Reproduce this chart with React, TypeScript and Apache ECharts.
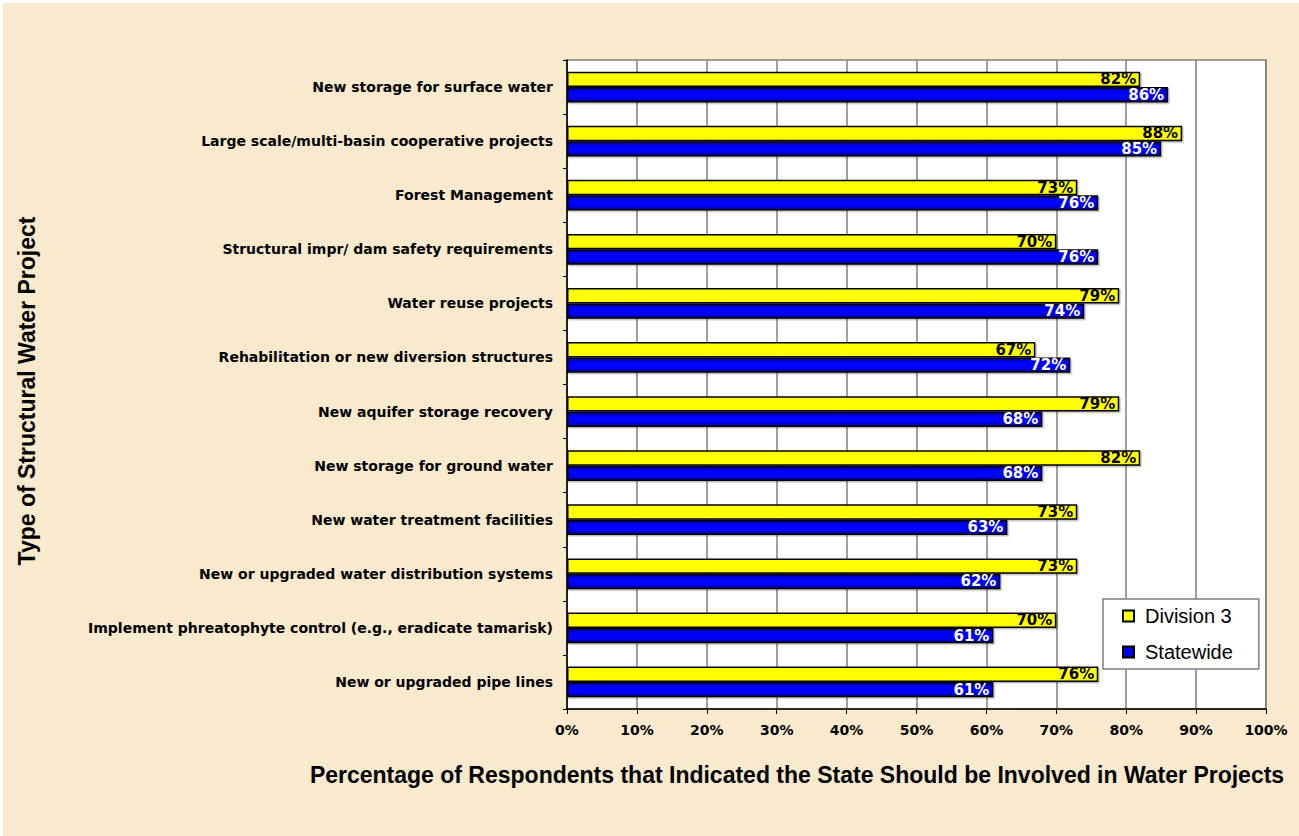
import React, { useEffect, useRef } from "react";
import * as echarts from "echarts";

// Project types, listed top to bottom
const categories: string[] = [
  "New storage for surface water",
  "Large scale/multi-basin cooperative projects",
  "Forest Management",
  "Structural impr/ dam safety requirements",
  "Water reuse projects",
  "Rehabilitation or new diversion structures",
  "New aquifer storage recovery",
  "New storage for ground water",
  "New water treatment facilities",
  "New or upgraded water distribution systems",
  "Implement phreatophyte control (e.g., eradicate tamarisk)",
  "New or upgraded pipe lines",
];

// Percent of respondents, Division 3
const division3: number[] = [82, 88, 73, 70, 79, 67, 79, 82, 73, 73, 70, 76];
// Percent of respondents, statewide
const statewide: number[] = [86, 85, 76, 76, 74, 72, 68, 68, 63, 62, 61, 61];

const seriesNames = ["Division 3", "Statewide"];
const xTitle =
  "Percentage of Respondents that Indicated the State Should be Involved in Water Projects";
const yTitle = "Type of Structural Water Project";

const LABEL_FONT = "'DejaVu Sans', 'Liberation Sans', Arial, sans-serif";
const TITLE_FONT = "'Liberation Sans', Arial, sans-serif";

export default function App() {
  const ref = useRef<HTMLDivElement>(null);

  useEffect(() => {
    if (!ref.current) return;
    const chart = echarts.init(ref.current, null, { renderer: "svg" });

    const blueFill = new echarts.graphic.LinearGradient(0, 0, 0, 1, [
      { offset: 0, color: "#00007a" },
      { offset: 0.3, color: "#0000ff" },
      { offset: 0.7, color: "#0000ff" },
      { offset: 1, color: "#00007a" },
    ]);

    const barShadow = {
      shadowColor: "rgba(0,0,0,0.25)",
      shadowBlur: 1,
      shadowOffsetX: 1.5,
      shadowOffsetY: 1.5,
    };

    const valueLabel = (color: string) => ({
      show: true,
      position: "insideRight",
      distance: 4,
      formatter: "{c}%",
      fontFamily: LABEL_FONT,
      fontWeight: "bold",
      fontSize: 15,
      color,
    });

    chart.setOption({
      animation: false,
      backgroundColor: "#f9e9cd",
      grid: {
        left: 564,
        right: 33,
        top: 57,
        bottom: 127,
        show: true,
        backgroundColor: "#ffffff",
        borderColor: "#808080",
        borderWidth: 1.5,
      },
      legend: {
        orient: "vertical",
        left: 1100,
        top: 596,
        backgroundColor: "#ffffff",
        borderColor: "#808080",
        borderWidth: 1.5,
        borderRadius: 0,
        padding: [7, 26, 7, 19],
        itemGap: 16,
        itemWidth: 11,
        itemHeight: 11,
        icon: "rect",
        data: seriesNames,
        textStyle: {
          fontFamily: TITLE_FONT,
          fontSize: 20,
          color: "#000",
          padding: [0, 0, 0, 6],
        },
      },
      xAxis: {
        type: "value",
        min: 0,
        max: 100,
        interval: 10,
        axisLine: { show: true, lineStyle: { color: "#000", width: 1.5 } },
        axisTick: { show: true, length: 5, lineStyle: { color: "#000" } },
        splitLine: { show: true, lineStyle: { color: "#808080", width: 1.5 } },
        axisLabel: {
          formatter: "{value}%",
          fontFamily: LABEL_FONT,
          fontWeight: "bold",
          fontSize: 14,
          color: "#000",
          margin: 14,
        },
      },
      yAxis: {
        type: "category",
        inverse: true,
        data: categories,
        axisLine: { show: true, lineStyle: { color: "#000", width: 1.5 } },
        axisTick: { show: true, length: 4, lineStyle: { color: "#000" } },
        axisLabel: {
          fontFamily: LABEL_FONT,
          fontWeight: "bold",
          fontSize: 14,
          color: "#000",
          margin: 14,
        },
      },
      series: [
        {
          name: seriesNames[0],
          type: "bar",
          data: division3,
          barGap: "0%",
          barCategoryGap: "43%",
          itemStyle: {
            color: "#ffff00",
            borderColor: "#000",
            borderWidth: 1.5,
            ...barShadow,
          },
          label: valueLabel("#000000"),
        },
        {
          name: seriesNames[1],
          type: "bar",
          data: statewide,
          barGap: "0%",
          barCategoryGap: "43%",
          itemStyle: {
            color: blueFill,
            borderColor: "#000",
            borderWidth: 1.5,
            ...barShadow,
          },
          label: valueLabel("#ffffff"),
        },
      ],
      graphic: [
        {
          type: "text",
          x: 794,
          y: 772,
          style: {
            text: xTitle,
            fontFamily: TITLE_FONT,
            fontWeight: "bold",
            fontSize: 23,
            fill: "#000",
            textAlign: "center",
            textVerticalAlign: "middle",
          },
        },
        {
          type: "text",
          x: 24,
          y: 388,
          rotation: Math.PI / 2,
          style: {
            text: yTitle,
            fontFamily: TITLE_FONT,
            fontWeight: "bold",
            fontSize: 23,
            fill: "#000",
            textAlign: "center",
            textVerticalAlign: "middle",
          },
        },
      ],
    });

    return () => chart.dispose();
  }, []);

  return (
    <div
      style={{
        position: "absolute",
        left: 0,
        top: 0,
        width: 1299,
        height: 836,
        background: "#ffffff",
      }}
    >
      <div
        ref={ref}
        style={{ position: "absolute", left: 3, top: 3, width: 1296, height: 833 }}
      />
    </div>
  );
}
